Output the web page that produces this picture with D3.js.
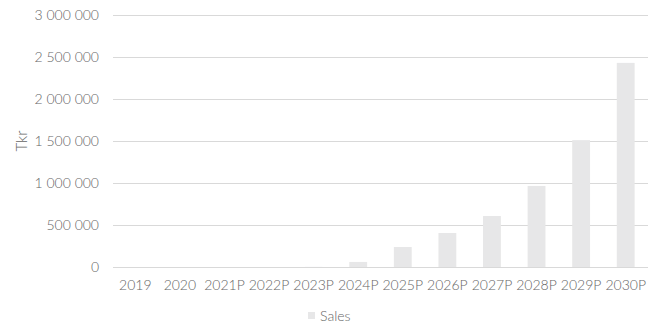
<!DOCTYPE html>
<html>
<head>
<meta charset="utf-8">
<script src="https://cdn.jsdelivr.net/npm/d3@7"></script>
<style>
  body { margin: 0; background: #fff; }
  text { font-family: Lato, "Open Sans", sans-serif; font-weight: 300; fill: #666666; }
</style>
</head>
<body>
<div id="chart-area"></div>
<script>
// Data -------------------------------------------------
const years = ["2019", "2020", "2021P", "2022P", "2023P", "2024P", "2025P", "2026P", "2027P", "2028P", "2029P", "2030P"]
const sales = [0, 0, 0, 0, 1500, 60000, 238000, 405000, 607000, 965000, 1510000, 2430000]
const yTicks = [0, 500000, 1000000, 1500000, 2000000, 2500000, 3000000]

// Canvas setup -----------------------------------------
const W = 663, H = 327
const MARGIN = {LEFT: 113, RIGHT: 15, TOP: 15, BOTTOM: 60}

const svg = d3.select("#chart-area").append("svg")
  .attr("width", W)
  .attr("height", H)

const xScale = d3.scaleBand()
  .domain(years)
  .range([MARGIN.LEFT, W - MARGIN.RIGHT])
  .paddingInner(0.6)
  .paddingOuter(0.3)

const yScale = d3.scaleLinear()
  .domain([0, 3000000])
  .range([H - MARGIN.BOTTOM, MARGIN.TOP])

const fmt = v => d3.format(",")(v).replace(/,/g, " ")

// gridlines
svg.append("g")
  .selectAll("line")
  .data(yTicks)
  .join("line")
    .attr("x1", MARGIN.LEFT)
    .attr("x2", W - MARGIN.RIGHT)
    .attr("y1", d => Math.round(yScale(d)) + 0.5)
    .attr("y2", d => Math.round(yScale(d)) + 0.5)
    .attr("stroke", "#d9d9d9")
    .attr("stroke-width", 1)

// y tick labels
svg.append("g")
  .selectAll("text")
  .data(yTicks)
  .join("text")
    .attr("x", MARGIN.LEFT - 14)
    .attr("y", d => yScale(d))
    .attr("dy", "0.35em")
    .attr("text-anchor", "end")
    .attr("font-size", "14px")
    .text(fmt)

// bars
svg.append("g")
  .selectAll("rect")
  .data(sales)
  .join("rect")
    .attr("x", (d, i) => xScale(years[i]))
    .attr("y", d => yScale(d))
    .attr("width", xScale.bandwidth())
    .attr("height", d => yScale(0) - yScale(d))
    .attr("fill", "#e7e7e8")

// x labels
svg.append("g")
  .selectAll("text")
  .data(years)
  .join("text")
    .attr("x", d => xScale(d) + xScale.bandwidth() / 2)
    .attr("y", yScale(0) + 23)
    .attr("text-anchor", "middle")
    .attr("font-size", "14px")
    .text(d => d)

// y axis title
svg.append("text")
  .attr("transform", `translate(27, ${(yScale(0) + yScale(3000000)) / 2}) rotate(-90)`)
  .attr("text-anchor", "middle")
  .attr("font-size", "15px")
  .text("Tkr")

// legend
const legend = svg.append("g").attr("transform", "translate(308, 316)")
legend.append("rect")
  .attr("x", 0).attr("y", -4)
  .attr("width", 7).attr("height", 7)
  .attr("fill", "#e7e7e8")
legend.append("text")
  .attr("x", 12).attr("y", 0)
  .attr("dy", "0.35em")
  .attr("font-size", "14px")
  .text("Sales")
</script>
</body>
</html>
